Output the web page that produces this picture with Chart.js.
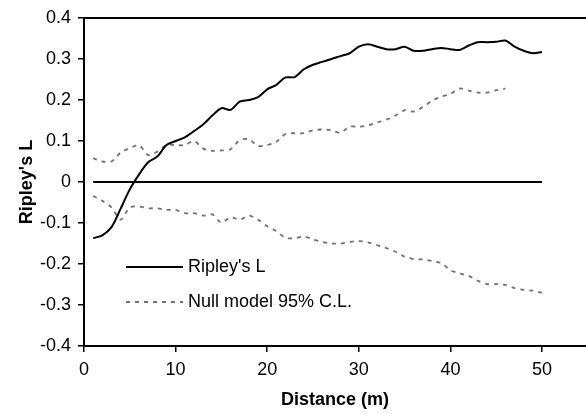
<!DOCTYPE html>
<html>
<head>
<meta charset="utf-8">
<script src="https://cdn.jsdelivr.net/npm/chart.js@4/dist/chart.umd.min.js"></script>
<style>
  html, body { margin: 0; padding: 0; background: #fff; }
  #wrap { width: 586px; height: 414px; }
</style>
</head>
<body>
<div id="wrap"><canvas id="ripleyChart"></canvas></div>
<script>
// distance classes (m)
const distance = [1, 2, 3, 4, 5, 6, 7, 8, 9, 10, 11, 12, 13, 14, 15, 16, 17, 18, 19, 20,
  21, 22, 23, 24, 25, 26, 27, 28, 29, 30, 31, 32, 33, 34, 35, 36, 37, 38, 39, 40,
  41, 42, 43, 44, 45, 46, 47, 48, 49, 50];

const ripleyL = [-0.137, -0.130, -0.110, -0.065, -0.018, 0.018, 0.048, 0.062, 0.090, 0.100,
  0.109, 0.124, 0.140, 0.162, 0.180, 0.176, 0.196, 0.200, 0.207, 0.226,
  0.237, 0.255, 0.256, 0.275, 0.286, 0.293, 0.300, 0.307, 0.314, 0.330,
  0.336, 0.330, 0.324, 0.324, 0.330, 0.320, 0.320, 0.324, 0.327, 0.324,
  0.322, 0.333, 0.341, 0.341, 0.342, 0.345, 0.330, 0.320, 0.314, 0.317];

// upper envelope stops at 46 m
const upperCL = [0.058, 0.050, 0.050, 0.072, 0.082, 0.090, 0.066, 0.074, 0.090, 0.090,
  0.090, 0.100, 0.082, 0.076, 0.077, 0.080, 0.102, 0.104, 0.088, 0.090,
  0.098, 0.117, 0.119, 0.119, 0.126, 0.128, 0.126, 0.120, 0.135, 0.135,
  0.138, 0.145, 0.152, 0.162, 0.175, 0.172, 0.183, 0.198, 0.208, 0.215,
  0.228, 0.223, 0.218, 0.218, 0.224, 0.228];

const lowerCL = [-0.034, -0.046, -0.062, -0.092, -0.062, -0.060, -0.064, -0.064, -0.068, -0.068,
  -0.076, -0.076, -0.082, -0.079, -0.099, -0.086, -0.092, -0.082, -0.092, -0.108,
  -0.120, -0.136, -0.137, -0.133, -0.140, -0.146, -0.150, -0.150, -0.146, -0.144,
  -0.147, -0.154, -0.161, -0.170, -0.182, -0.188, -0.189, -0.193, -0.198, -0.215,
  -0.223, -0.229, -0.241, -0.249, -0.249, -0.251, -0.259, -0.263, -0.265, -0.270];

const xTicks = [0, 10, 20, 30, 40, 50];
const yTicks = [-0.4, -0.3, -0.2, -0.1, 0, 0.1, 0.2, 0.3, 0.4];

const toPoints = vals => vals.map((v, i) => ({ x: distance[i], y: v }));
const zeroLine = [{ x: distance[0], y: 0 }, { x: distance[distance.length - 1], y: 0 }];

const FONT = "'Liberation Sans', Arial, sans-serif";
const GREY = "#707070";

// top frame line + hand placed legend inside the plot
const frameAndLegend = {
  id: "frameAndLegend",
  afterDraw(chart) {
    const { ctx, chartArea } = chart;
    ctx.save();
    ctx.strokeStyle = "#000";
    ctx.lineWidth = 2;
    ctx.beginPath();
    ctx.moveTo(chartArea.left, chartArea.top);
    ctx.lineTo(chartArea.right, chartArea.top);
    ctx.stroke();

    const items = chart.data.datasets.filter(d => d.inLegend);
    const x0 = chartArea.left + 42, x1 = chartArea.left + 99;
    let y = 267;
    ctx.font = "18px " + FONT;
    ctx.textBaseline = "middle";
    ctx.fillStyle = "#000";
    items.forEach(d => {
      ctx.strokeStyle = d.borderColor;
      ctx.lineWidth = d.borderWidth;
      ctx.setLineDash(d.borderDash || []);
      ctx.beginPath();
      ctx.moveTo(x0, y);
      ctx.lineTo(x1, y);
      ctx.stroke();
      ctx.setLineDash([]);
      ctx.fillText(d.label, x1 + 5, y);
      y += 35;
    });
    ctx.restore();
  }
};

new Chart(document.getElementById("ripleyChart"), {
  type: "line",
  data: {
    datasets: [
      { label: "zero", data: zeroLine, borderColor: "#000", borderWidth: 2, pointRadius: 0 },
      { label: "Ripley's L", inLegend: true, data: toPoints(ripleyL), borderColor: "#000",
        borderWidth: 2, pointRadius: 0, tension: 0.3 },
      { label: "Null model 95% C.L.", inLegend: true, data: toPoints(upperCL), borderColor: GREY,
        borderWidth: 1.8, borderDash: [4, 5], pointRadius: 0, tension: 0.3 },
      { label: "lower", data: toPoints(lowerCL), borderColor: GREY,
        borderWidth: 1.8, borderDash: [4, 5], pointRadius: 0, tension: 0.3 }
    ]
  },
  options: {
    responsive: true,
    maintainAspectRatio: false,
    animation: false,
    layout: { padding: { top: 18, right: 0, bottom: 0, left: 0 } },
    plugins: { legend: { display: false }, tooltip: { enabled: false } },
    scales: {
      x: {
        type: "linear",
        min: 0,
        max: 54.8,
        afterBuildTicks: s => { s.ticks = xTicks.map(v => ({ value: v })); },
        afterFit: s => { s.height = 68; },
        grid: { drawOnChartArea: false, drawTicks: true, tickLength: 6, color: "#000", lineWidth: 1.5 },
        border: { display: true, color: "#000", width: 2 },
        ticks: { color: "#000", padding: 7, font: { family: FONT, size: 18 }, maxRotation: 0 },
        title: { display: true, text: "Distance (m)", color: "#000",
          font: { family: FONT, size: 18, weight: "bold" }, padding: { top: 0, bottom: 3 } }
      },
      y: {
        min: -0.4,
        max: 0.4,
        afterBuildTicks: s => { s.ticks = yTicks.map(v => ({ value: v })); },
        afterFit: s => { s.width = 84; },
        grid: { drawOnChartArea: false, drawTicks: true, tickLength: 6, color: "#000", lineWidth: 1.5 },
        border: { display: true, color: "#000", width: 2 },
        ticks: { color: "#000", padding: 7, font: { family: FONT, size: 18 },
          callback: v => (Math.round(v * 10) / 10).toString() },
        title: { display: true, text: "Ripley's L", color: "#000",
          font: { family: FONT, size: 18, weight: "bold" }, padding: { top: 16, bottom: 0 } }
      }
    }
  },
  plugins: [frameAndLegend]
});
</script>
</body>
</html>
